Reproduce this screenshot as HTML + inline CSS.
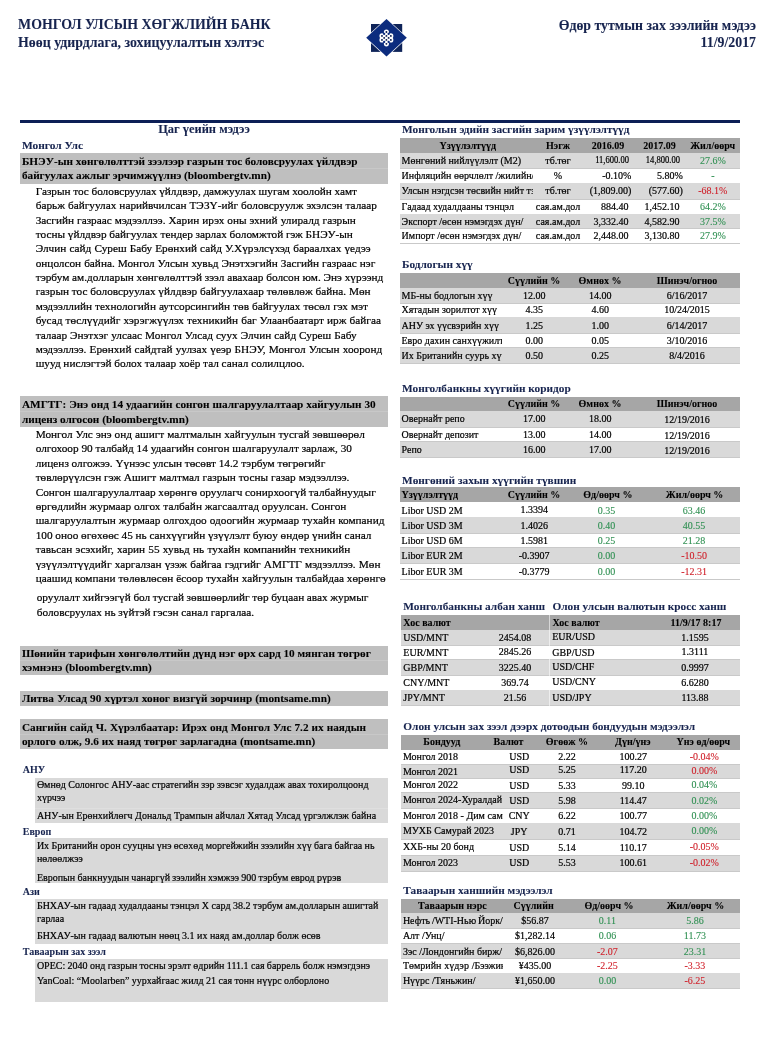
<!DOCTYPE html>
<html lang="mn"><head><meta charset="utf-8"><title>Өдөр тутмын зах зээлийн мэдээ</title>
<style>
html,body{margin:0;padding:0;background:#fff;}
body{width:775px;height:1038px;position:relative;overflow:hidden;font-family:"Liberation Serif",serif;color:#000;}
.t{position:absolute;white-space:nowrap;line-height:14px;height:14px;-webkit-text-stroke:0.2px currentColor;}
.b{position:absolute;}
</style></head><body>
<div class="t" style="top:18px;font-size:13.85px;font-weight:bold;-webkit-text-stroke:0.08px currentColor;color:#17244f;left:18.10px;">МОНГОЛ УЛСЫН ХӨГЖЛИЙН БАНК</div>
<div class="t" style="top:36px;font-size:13.85px;font-weight:bold;-webkit-text-stroke:0.08px currentColor;color:#17244f;left:18.10px;">Нөөц удирдлага, зохицуулалтын хэлтэс</div>
<div class="t" style="top:19px;font-size:13.85px;font-weight:bold;-webkit-text-stroke:0.08px currentColor;color:#17244f;left:456.00px;width:300px;text-align:right;">Өдөр тутмын зах зээлийн мэдээ</div>
<div class="t" style="top:36px;font-size:13.85px;font-weight:bold;-webkit-text-stroke:0.08px currentColor;color:#17244f;left:456.00px;width:300px;text-align:right;">11/9/2017</div>
<svg class="b" style="left:360px;top:12px" width="54" height="52" viewBox="360 12 54 52">
<rect x="371" y="24" width="31.2" height="27.9" fill="#0f2459"/>
<polygon points="386.5,18.2 407.7,37.8 386.5,57.4 365.3,37.8" fill="#fff"/>
<polygon points="386.5,19.1 406.8,37.8 386.5,56.5 366.2,37.8" fill="#0c2c7e"/>
<g fill="#fff"><circle cx="386.40" cy="31.93" r="2.55"/><circle cx="381.96" cy="35.91" r="2.55"/><circle cx="386.40" cy="35.91" r="2.55"/><circle cx="390.84" cy="35.91" r="2.55"/><circle cx="384.18" cy="37.90" r="2.55"/><circle cx="388.62" cy="37.90" r="2.55"/><circle cx="381.96" cy="39.89" r="2.55"/><circle cx="386.40" cy="39.89" r="2.55"/><circle cx="390.84" cy="39.89" r="2.55"/><circle cx="386.40" cy="43.87" r="2.55"/></g>
<g fill="#0c2c7e"><circle cx="384.18" cy="33.92" r="1.15"/><circle cx="388.62" cy="33.92" r="1.15"/><circle cx="384.18" cy="41.88" r="1.15"/><circle cx="388.62" cy="41.88" r="1.15"/></g>
<g fill="#06184a"><circle cx="386.40" cy="31.93" r="0.95"/><circle cx="381.96" cy="35.91" r="0.95"/><circle cx="386.40" cy="35.91" r="0.95"/><circle cx="390.84" cy="35.91" r="0.95"/><circle cx="384.18" cy="37.90" r="0.95"/><circle cx="388.62" cy="37.90" r="0.95"/><circle cx="381.96" cy="39.89" r="0.95"/><circle cx="386.40" cy="39.89" r="0.95"/><circle cx="390.84" cy="39.89" r="0.95"/><circle cx="386.40" cy="43.87" r="0.95"/></g>
</svg>
<div class="b" style="left:20.00px;top:120.00px;width:719.50px;height:3.20px;background:#0c1f56;"></div>
<div class="t" style="top:122px;font-size:12.45px;font-weight:bold;-webkit-text-stroke:0.08px currentColor;color:#17244f;left:54.00px;width:300px;text-align:center;">Цаг үеийн мэдээ</div>
<div class="t" style="top:138px;font-size:11.4px;font-weight:bold;-webkit-text-stroke:0.08px currentColor;color:#17244f;left:21.90px;">Монгол Улс</div>
<div class="b" style="left:20.00px;top:153.20px;width:368.00px;height:30.40px;background:#bfbfbf;"></div>
<div class="b" style="left:20.00px;top:167.90px;width:368.00px;height:1.00px;background:#c8c8c8;"></div>
<div class="t" style="top:154px;font-size:11.25px;font-weight:bold;-webkit-text-stroke:0.08px currentColor;left:21.90px;word-spacing:-0.100px;">БНЭУ-ын хөнгөлөлттэй зээлээр газрын тос боловсруулах үйлдвэр</div>
<div class="t" style="top:168px;font-size:11.25px;font-weight:bold;-webkit-text-stroke:0.08px currentColor;left:21.90px;">байгуулах ажлыг эрчимжүүлнэ (bloombergtv.mn)</div>
<div class="t" style="top:184px;font-size:11.28px;left:35.70px;word-spacing:-0.257px;">Газрын тос боловсруулах үйлдвэр, дамжуулах шугам хоолойн хамт</div>
<div class="t" style="top:198px;font-size:11.28px;left:35.70px;word-spacing:0.167px;">барьж байгуулах нарийвчилсан ТЭЗҮ-ийг боловсруулж эхэлсэн талаар</div>
<div class="t" style="top:213px;font-size:11.28px;left:35.70px;word-spacing:0.188px;">Засгийн газраас мэдээллээ. Харин ирэх оны эхний улиралд газрын</div>
<div class="t" style="top:227px;font-size:11.28px;left:35.70px;word-spacing:-0.043px;">тосны үйлдвэр байгуулах тендер зарлах боломжтой гэж БНЭУ-ын</div>
<div class="t" style="top:241px;font-size:11.28px;left:35.70px;word-spacing:0.275px;">Элчин сайд Суреш Бабу Ерөнхий сайд У.Хүрэлсүхэд бараалхах үедээ</div>
<div class="t" style="top:256px;font-size:11.28px;left:35.70px;word-spacing:0.175px;">онцолсон байна. Монгол Улсын хувьд Энэтхэгийн Засгийн газраас нэг</div>
<div class="t" style="top:270px;font-size:11.28px;left:35.70px;">тэрбум ам.долларын хөнгөлөлттэй зээл авахаар болсон юм. Энэ хүрээнд</div>
<div class="t" style="top:284px;font-size:11.28px;left:35.70px;">газрын тос боловсруулах үйлдвэр байгуулахаар төлөвлөж байна. Мөн</div>
<div class="t" style="top:299px;font-size:11.28px;left:35.70px;word-spacing:0.200px;">мэдээллийн технологийн аутсорсингийн төв байгуулах төсөл гэх мэт</div>
<div class="t" style="top:313px;font-size:11.28px;left:35.70px;word-spacing:0.286px;">бусад төслүүдийг хэрэгжүүлэх техникийн баг Улаанбаатарт ирж байгаа</div>
<div class="t" style="top:328px;font-size:11.28px;left:35.70px;word-spacing:0.133px;">талаар Энэтхэг улсаас Монгол Улсад суух Элчин сайд Суреш Бабу</div>
<div class="t" style="top:342px;font-size:11.28px;left:35.70px;word-spacing:0.325px;">мэдээллээ. Ерөнхий сайдтай уулзах үеэр БНЭУ, Монгол Улсын хооронд</div>
<div class="t" style="top:356px;font-size:11.28px;left:35.70px;word-spacing:-0.114px;">шууд нислэгтэй болох талаар хоёр тал санал солилцлоо.</div>
<div class="b" style="left:20.00px;top:396.40px;width:368.00px;height:30.20px;background:#bfbfbf;"></div>
<div class="b" style="left:20.00px;top:411.00px;width:368.00px;height:1.00px;background:#c8c8c8;"></div>
<div class="t" style="top:397px;font-size:11.25px;font-weight:bold;-webkit-text-stroke:0.08px currentColor;left:21.90px;word-spacing:0.150px;">АМГТГ: Энэ онд 14 удаагийн сонгон шалгаруулалтаар хайгуулын 30</div>
<div class="t" style="top:412px;font-size:11.25px;font-weight:bold;-webkit-text-stroke:0.08px currentColor;left:21.90px;">лиценз олгосон (bloombergtv.mn)</div>
<div class="t" style="top:427px;font-size:11.28px;left:35.70px;word-spacing:0.200px;">Монгол Улс энэ онд ашигт малтмалын хайгуулын тусгай зөвшөөрөл</div>
<div class="t" style="top:441px;font-size:11.28px;left:35.70px;">олгохоор 90 талбайд 14 удаагийн сонгон шалгаруулалт зарлаж, 30</div>
<div class="t" style="top:456px;font-size:11.28px;left:35.70px;word-spacing:-0.057px;">лиценз олгожээ. Үүнээс улсын төсөвт 14.2 тэрбум төгрөгийг</div>
<div class="t" style="top:470px;font-size:11.28px;left:35.70px;word-spacing:0.114px;">төвлөрүүлсэн гэж Ашигт малтмал газрын тосны газар мэдээллээ.</div>
<div class="t" style="top:485px;font-size:11.28px;left:35.70px;word-spacing:-0.240px;">Сонгон шалгаруулалтаар хөрөнгө оруулагч сонирхоогүй талбайнуудыг</div>
<div class="t" style="top:499px;font-size:11.28px;left:35.70px;word-spacing:0.083px;">өргөдлийн журмаар олгох талбайн жагсаалтад оруулсан. Сонгон</div>
<div class="t" style="top:513px;font-size:11.28px;left:35.70px;word-spacing:0.150px;">шалгаруулалтын журмаар олгохдоо одоогийн журмаар тухайн компанид</div>
<div class="t" style="top:528px;font-size:11.28px;left:35.70px;word-spacing:-0.070px;">100 оноо өгөхөөс 45 нь санхүүгийн үзүүлэлт буюу өндөр үнийн санал</div>
<div class="t" style="top:542px;font-size:11.28px;left:35.70px;word-spacing:0.375px;">тавьсан эсэхийг, харин 55 хувьд нь тухайн компанийн техникийн</div>
<div class="t" style="top:557px;font-size:11.28px;left:35.70px;word-spacing:0.329px;">үзүүлэлтүүдийг харгалзан үзэж байгаа гэдгийг АМГТГ мэдээллээ. Мөн</div>
<div class="t" style="top:571px;font-size:11.28px;left:35.70px;word-spacing:0.043px;">цаашид компани төлөвлөсөн ёсоор тухайн хайгуулын талбайдаа хөрөнгө</div>
<div class="t" style="top:590px;font-size:11.28px;left:36.70px;word-spacing:-0.175px;">оруулалт хийгээгүй бол тусгай зөвшөөрлийг төр буцаан авах журмыг</div>
<div class="t" style="top:605px;font-size:11.28px;left:36.70px;word-spacing:-0.2px;">боловсруулах нь зүйтэй гэсэн санал гаргалаа.</div>
<div class="b" style="left:20.00px;top:645.80px;width:368.00px;height:29.00px;background:#bfbfbf;"></div>
<div class="b" style="left:20.00px;top:659.80px;width:368.00px;height:1.00px;background:#c8c8c8;"></div>
<div class="t" style="top:646px;font-size:11.25px;font-weight:bold;-webkit-text-stroke:0.08px currentColor;left:21.90px;word-spacing:-0.111px;">Шөнийн тарифын хөнгөлөлтийн дүнд нэг өрх сард 10 мянган төгрөг</div>
<div class="t" style="top:660px;font-size:11.25px;font-weight:bold;-webkit-text-stroke:0.08px currentColor;left:21.90px;">хэмнэнэ (bloombergtv.mn)</div>
<div class="b" style="left:20.00px;top:691.00px;width:368.00px;height:14.80px;background:#bfbfbf;"></div>
<div class="t" style="top:691px;font-size:11.25px;font-weight:bold;-webkit-text-stroke:0.08px currentColor;left:21.90px;word-spacing:0.371px;">Литва Улсад 90 хүртэл хоног визгүй зорчинр (montsame.mn)</div>
<div class="b" style="left:20.00px;top:719.20px;width:368.00px;height:30.30px;background:#bfbfbf;"></div>
<div class="b" style="left:20.00px;top:733.85px;width:368.00px;height:1.00px;background:#c8c8c8;"></div>
<div class="t" style="top:720px;font-size:11.25px;font-weight:bold;-webkit-text-stroke:0.08px currentColor;left:21.90px;word-spacing:0.260px;">Сангийн сайд Ч. Хүрэлбаатар: Ирэх онд Монгол Улс 7.2 их наядын</div>
<div class="t" style="top:734px;font-size:11.25px;font-weight:bold;-webkit-text-stroke:0.08px currentColor;left:21.90px;word-spacing:0.243px;">орлого олж, 9.6 их наяд төгрөг зарлагадна (montsame.mn)</div>
<div class="t" style="top:763px;font-size:10.0px;font-weight:bold;-webkit-text-stroke:0.08px currentColor;color:#17244f;left:22.80px;">АНУ</div>
<div class="b" style="left:34.80px;top:778.10px;width:353.30px;height:45.40px;background:#d9d9d9;"></div>
<div class="b" style="left:34.80px;top:808.20px;width:353.30px;height:1.00px;background:#dfdfdf;"></div>
<div class="t" style="top:778px;font-size:10px;left:36.90px;word-spacing:-0.075px;">Өмнөд Солонгос АНУ-аас стратегийн зэр зэвсэг худалдаж авах тохиролцоонд</div>
<div class="t" style="top:791px;font-size:10px;left:36.90px;">хүрчээ</div>
<div class="t" style="top:809px;font-size:10px;left:36.90px;">АНУ-ын Ерөнхийлөгч Дональд Трампын айчлал Хятад Улсад үргэлжлэж байна</div>
<div class="t" style="top:825px;font-size:10.0px;font-weight:bold;-webkit-text-stroke:0.08px currentColor;color:#17244f;left:22.80px;">Европ</div>
<div class="b" style="left:34.80px;top:838.40px;width:353.30px;height:45.00px;background:#d9d9d9;"></div>
<div class="t" style="top:839px;font-size:10px;left:36.90px;word-spacing:-0.191px;">Их Британийн орон сууцны үнэ өсөхөд моргейжийн зээлийн хүү бага байгаа нь</div>
<div class="t" style="top:852px;font-size:10px;left:36.90px;">нөлөөлжээ</div>
<div class="t" style="top:871px;font-size:10px;left:36.90px;word-spacing:-0.200px;">Европын банкнуудын чанаргүй зээлийн хэмжээ 900 тэрбум еврод рүрэв</div>
<div class="t" style="top:885px;font-size:10.0px;font-weight:bold;-webkit-text-stroke:0.08px currentColor;color:#17244f;left:22.80px;">Ази</div>
<div class="b" style="left:34.80px;top:898.60px;width:353.30px;height:45.50px;background:#d9d9d9;"></div>
<div class="t" style="top:899px;font-size:10px;left:36.90px;">БНХАУ-ын гадаад худалдааны тэнцэл X сард 38.2 тэрбум ам.долларын ашигтай</div>
<div class="t" style="top:912px;font-size:10px;left:36.90px;">гарлаа</div>
<div class="t" style="top:929px;font-size:10px;left:36.90px;">БНХАУ-ын гадаад валютын нөөц 3.1 их наяд ам.доллар болж өсөв</div>
<div class="t" style="top:945px;font-size:10.0px;font-weight:bold;-webkit-text-stroke:0.08px currentColor;color:#17244f;left:22.80px;">Таваарын зах зээл</div>
<div class="b" style="left:34.80px;top:959.30px;width:353.30px;height:42.40px;background:#d9d9d9;"></div>
<div class="t" style="top:959px;font-size:10px;left:36.90px;word-spacing:-0.155px;">OPEC: 2040 онд газрын тосны эрэлт өдрийн 111.1 сая баррель болж нэмэгдэнэ</div>
<div class="t" style="top:974px;font-size:10px;left:36.90px;word-spacing:-0.087px;">YanCoal: “Moolarben” уурхайгаас жилд 21 сая тонн нүүрс олборлоно</div>
<div class="t" style="top:122px;font-size:11.3px;font-weight:bold;-webkit-text-stroke:0.08px currentColor;color:#17244f;left:402.00px;">Монголын эдийн засгийн зарим үзүүлэлтүүд</div>
<div class="b" style="left:400.00px;top:138.20px;width:339.80px;height:15.20px;background:#a6a6a6;"></div>
<div class="b" style="left:400.00px;top:153.40px;width:339.80px;height:15.10px;background:#d9d9d9;"></div>
<div class="b" style="left:400.00px;top:167.90px;width:339.80px;height:1.00px;background:#c9c9c9;"></div>
<div class="b" style="left:400.00px;top:182.80px;width:339.80px;height:1.00px;background:#c9c9c9;"></div>
<div class="b" style="left:400.00px;top:183.40px;width:339.80px;height:16.00px;background:#d9d9d9;"></div>
<div class="b" style="left:400.00px;top:198.80px;width:339.80px;height:1.00px;background:#c9c9c9;"></div>
<div class="b" style="left:400.00px;top:213.60px;width:339.80px;height:1.00px;background:#c9c9c9;"></div>
<div class="b" style="left:400.00px;top:214.20px;width:339.80px;height:14.20px;background:#d9d9d9;"></div>
<div class="b" style="left:400.00px;top:227.80px;width:339.80px;height:1.00px;background:#c9c9c9;"></div>
<div class="b" style="left:400.00px;top:242.70px;width:339.80px;height:1.00px;background:#c9c9c9;"></div>
<div class="t" style="top:139px;font-size:10px;font-weight:bold;-webkit-text-stroke:0.08px currentColor;left:317.80px;width:300px;text-align:center;">Үзүүлэлтүүд</div>
<div class="t" style="top:139px;font-size:10px;font-weight:bold;-webkit-text-stroke:0.08px currentColor;left:408.00px;width:300px;text-align:center;">Нэгж</div>
<div class="t" style="top:139px;font-size:10px;font-weight:bold;-webkit-text-stroke:0.08px currentColor;left:458.00px;width:300px;text-align:center;">2016.09</div>
<div class="t" style="top:139px;font-size:10px;font-weight:bold;-webkit-text-stroke:0.08px currentColor;left:509.50px;width:300px;text-align:center;">2017.09</div>
<div class="t" style="top:139px;font-size:10px;font-weight:bold;-webkit-text-stroke:0.08px currentColor;left:562.70px;width:300px;text-align:center;">Жил/өөрч</div>
<div class="t" style="top:154px;font-size:10px;left:401.60px;width:131.80px;overflow:hidden;">Мөнгөний нийлүүлэлт (M2)</div>
<div class="t" style="top:154px;font-size:10px;left:408.00px;width:300px;text-align:center;">тб.төг</div>
<div class="t" style="top:153px;font-size:9.6px;left:329.00px;width:300px;text-align:right;transform:scaleX(0.89);transform-origin:100% 50%;">11,600.00</div>
<div class="t" style="top:153px;font-size:9.6px;left:380.30px;width:300px;text-align:right;transform:scaleX(0.89);transform-origin:100% 50%;">14,800.00</div>
<div class="t" style="top:154px;font-size:10px;color:#2f9052;-webkit-text-stroke:0.1px currentColor;left:562.80px;width:300px;text-align:center;">27.6%</div>
<div class="t" style="top:169px;font-size:10px;left:401.60px;width:131.80px;overflow:hidden;">Инфляцийн өөрчлөлт /жилийн/</div>
<div class="t" style="top:169px;font-size:10px;left:408.00px;width:300px;text-align:center;">%</div>
<div class="t" style="top:169px;font-size:10px;left:331.30px;width:300px;text-align:right;">-0.10%</div>
<div class="t" style="top:169px;font-size:10px;left:382.90px;width:300px;text-align:right;">5.80%</div>
<div class="t" style="top:169px;font-size:10px;color:#2f9052;-webkit-text-stroke:0.1px currentColor;left:562.80px;width:300px;text-align:center;">-</div>
<div class="t" style="top:184px;font-size:10px;left:401.60px;width:131.80px;overflow:hidden;">Улсын нэгдсэн төсвийн нийт тэнцэл</div>
<div class="t" style="top:184px;font-size:10px;left:408.00px;width:300px;text-align:center;">тб.төг</div>
<div class="t" style="top:184px;font-size:10px;left:331.30px;width:300px;text-align:right;">(1,809.00)</div>
<div class="t" style="top:184px;font-size:10px;left:382.90px;width:300px;text-align:right;">(577.60)</div>
<div class="t" style="top:184px;font-size:10px;color:#d0202a;-webkit-text-stroke:0.1px currentColor;left:562.80px;width:300px;text-align:center;">-68.1%</div>
<div class="t" style="top:200px;font-size:10px;left:401.60px;width:131.80px;overflow:hidden;">Гадаад худалдааны тэнцэл</div>
<div class="t" style="top:200px;font-size:10px;left:408.00px;width:300px;text-align:center;">сая.ам.дол</div>
<div class="t" style="top:200px;font-size:10px;left:328.40px;width:300px;text-align:right;">884.40</div>
<div class="t" style="top:200px;font-size:10px;left:379.60px;width:300px;text-align:right;">1,452.10</div>
<div class="t" style="top:200px;font-size:10px;color:#2f9052;-webkit-text-stroke:0.1px currentColor;left:562.80px;width:300px;text-align:center;">64.2%</div>
<div class="t" style="top:215px;font-size:10px;left:401.60px;width:131.80px;overflow:hidden;">Экспорт /өсөн нэмэгдэх дүн/</div>
<div class="t" style="top:215px;font-size:10px;left:408.00px;width:300px;text-align:center;">сая.ам.дол</div>
<div class="t" style="top:215px;font-size:10px;left:328.40px;width:300px;text-align:right;">3,332.40</div>
<div class="t" style="top:215px;font-size:10px;left:379.60px;width:300px;text-align:right;">4,582.90</div>
<div class="t" style="top:215px;font-size:10px;color:#2f9052;-webkit-text-stroke:0.1px currentColor;left:562.80px;width:300px;text-align:center;">37.5%</div>
<div class="t" style="top:229px;font-size:10px;left:401.60px;width:131.80px;overflow:hidden;">Импорт /өсөн нэмэгдэх дүн/</div>
<div class="t" style="top:229px;font-size:10px;left:408.00px;width:300px;text-align:center;">сая.ам.дол</div>
<div class="t" style="top:229px;font-size:10px;left:328.40px;width:300px;text-align:right;">2,448.00</div>
<div class="t" style="top:229px;font-size:10px;left:379.60px;width:300px;text-align:right;">3,130.80</div>
<div class="t" style="top:229px;font-size:10px;color:#2f9052;-webkit-text-stroke:0.1px currentColor;left:562.80px;width:300px;text-align:center;">27.9%</div>
<div class="t" style="top:257px;font-size:11.3px;font-weight:bold;-webkit-text-stroke:0.08px currentColor;color:#17244f;left:402.00px;">Бодлогын хүү</div>
<div class="b" style="left:400.00px;top:273.10px;width:339.80px;height:14.50px;background:#a6a6a6;"></div>
<div class="b" style="left:400.00px;top:287.60px;width:339.80px;height:15.80px;background:#d9d9d9;"></div>
<div class="b" style="left:400.00px;top:302.80px;width:339.80px;height:1.00px;background:#c9c9c9;"></div>
<div class="b" style="left:400.00px;top:316.70px;width:339.80px;height:1.00px;background:#c9c9c9;"></div>
<div class="b" style="left:400.00px;top:317.30px;width:339.80px;height:16.30px;background:#d9d9d9;"></div>
<div class="b" style="left:400.00px;top:333.00px;width:339.80px;height:1.00px;background:#c9c9c9;"></div>
<div class="b" style="left:400.00px;top:347.40px;width:339.80px;height:1.00px;background:#c9c9c9;"></div>
<div class="b" style="left:400.00px;top:348.00px;width:339.80px;height:16.00px;background:#d9d9d9;"></div>
<div class="b" style="left:400.00px;top:363.40px;width:339.80px;height:1.00px;background:#c9c9c9;"></div>
<div class="t" style="top:274px;font-size:10px;font-weight:bold;-webkit-text-stroke:0.08px currentColor;left:384.00px;width:300px;text-align:center;">Сүүлийн %</div>
<div class="t" style="top:274px;font-size:10px;font-weight:bold;-webkit-text-stroke:0.08px currentColor;left:450.00px;width:300px;text-align:center;">Өмнөх %</div>
<div class="t" style="top:274px;font-size:10px;font-weight:bold;-webkit-text-stroke:0.08px currentColor;left:537.00px;width:300px;text-align:center;">Шинэч/огноо</div>
<div class="t" style="top:289px;font-size:10px;left:401.50px;width:100.70px;overflow:hidden;">МБ-ны бодлогын хүү</div>
<div class="t" style="top:289px;font-size:10px;left:384.20px;width:300px;text-align:center;">12.00</div>
<div class="t" style="top:289px;font-size:10px;left:450.20px;width:300px;text-align:center;">14.00</div>
<div class="t" style="top:289px;font-size:10px;left:537.10px;width:300px;text-align:center;">6/16/2017</div>
<div class="t" style="top:303px;font-size:10px;left:401.50px;width:100.70px;overflow:hidden;">Хятадын зорилтот хүү</div>
<div class="t" style="top:303px;font-size:10px;left:384.20px;width:300px;text-align:center;">4.35</div>
<div class="t" style="top:303px;font-size:10px;left:450.20px;width:300px;text-align:center;">4.60</div>
<div class="t" style="top:303px;font-size:10px;left:537.10px;width:300px;text-align:center;">10/24/2015</div>
<div class="t" style="top:319px;font-size:10px;left:401.50px;width:100.70px;overflow:hidden;">АНУ эх үүсвэрийн хүү</div>
<div class="t" style="top:319px;font-size:10px;left:384.20px;width:300px;text-align:center;">1.25</div>
<div class="t" style="top:319px;font-size:10px;left:450.20px;width:300px;text-align:center;">1.00</div>
<div class="t" style="top:319px;font-size:10px;left:537.10px;width:300px;text-align:center;">6/14/2017</div>
<div class="t" style="top:334px;font-size:10px;left:401.50px;width:100.70px;overflow:hidden;">Евро дахин санхүүжилтийн хүү</div>
<div class="t" style="top:334px;font-size:10px;left:384.20px;width:300px;text-align:center;">0.00</div>
<div class="t" style="top:334px;font-size:10px;left:450.20px;width:300px;text-align:center;">0.05</div>
<div class="t" style="top:334px;font-size:10px;left:537.10px;width:300px;text-align:center;">3/10/2016</div>
<div class="t" style="top:349px;font-size:10px;left:401.50px;width:100.70px;overflow:hidden;">Их Британийн суурь хүү</div>
<div class="t" style="top:349px;font-size:10px;left:384.20px;width:300px;text-align:center;">0.50</div>
<div class="t" style="top:349px;font-size:10px;left:450.20px;width:300px;text-align:center;">0.25</div>
<div class="t" style="top:349px;font-size:10px;left:537.10px;width:300px;text-align:center;">8/4/2016</div>
<div class="t" style="top:381px;font-size:11.3px;font-weight:bold;-webkit-text-stroke:0.08px currentColor;color:#17244f;left:402.00px;">Монголбанкны хүүгийн коридор</div>
<div class="b" style="left:400.00px;top:396.70px;width:339.80px;height:14.30px;background:#a6a6a6;"></div>
<div class="b" style="left:400.00px;top:411.00px;width:339.80px;height:16.60px;background:#d9d9d9;"></div>
<div class="b" style="left:400.00px;top:427.00px;width:339.80px;height:1.00px;background:#c9c9c9;"></div>
<div class="b" style="left:400.00px;top:441.40px;width:339.80px;height:1.00px;background:#c9c9c9;"></div>
<div class="b" style="left:400.00px;top:442.00px;width:339.80px;height:16.00px;background:#d9d9d9;"></div>
<div class="b" style="left:400.00px;top:457.40px;width:339.80px;height:1.00px;background:#c9c9c9;"></div>
<div class="t" style="top:397px;font-size:10px;font-weight:bold;-webkit-text-stroke:0.08px currentColor;left:384.00px;width:300px;text-align:center;">Сүүлийн %</div>
<div class="t" style="top:397px;font-size:10px;font-weight:bold;-webkit-text-stroke:0.08px currentColor;left:450.00px;width:300px;text-align:center;">Өмнөх %</div>
<div class="t" style="top:397px;font-size:10px;font-weight:bold;-webkit-text-stroke:0.08px currentColor;left:537.00px;width:300px;text-align:center;">Шинэч/огноо</div>
<div class="t" style="top:412px;font-size:10px;left:401.60px;">Овернайт репо</div>
<div class="t" style="top:412px;font-size:10px;left:384.20px;width:300px;text-align:center;">17.00</div>
<div class="t" style="top:412px;font-size:10px;left:450.20px;width:300px;text-align:center;">18.00</div>
<div class="t" style="top:413px;font-size:10px;left:537.10px;width:300px;text-align:center;">12/19/2016</div>
<div class="t" style="top:428px;font-size:10px;left:401.60px;">Овернайт депозит</div>
<div class="t" style="top:428px;font-size:10px;left:384.20px;width:300px;text-align:center;">13.00</div>
<div class="t" style="top:428px;font-size:10px;left:450.20px;width:300px;text-align:center;">14.00</div>
<div class="t" style="top:429px;font-size:10px;left:537.10px;width:300px;text-align:center;">12/19/2016</div>
<div class="t" style="top:443px;font-size:10px;left:401.60px;">Репо</div>
<div class="t" style="top:443px;font-size:10px;left:384.20px;width:300px;text-align:center;">16.00</div>
<div class="t" style="top:443px;font-size:10px;left:450.20px;width:300px;text-align:center;">17.00</div>
<div class="t" style="top:444px;font-size:10px;left:537.10px;width:300px;text-align:center;">12/19/2016</div>
<div class="t" style="top:473px;font-size:11.3px;font-weight:bold;-webkit-text-stroke:0.08px currentColor;color:#17244f;left:402.00px;">Мөнгөний захын хүүгийн түвшин</div>
<div class="b" style="left:400.00px;top:487.30px;width:339.80px;height:15.10px;background:#a6a6a6;"></div>
<div class="b" style="left:400.00px;top:516.70px;width:339.80px;height:1.00px;background:#c9c9c9;"></div>
<div class="b" style="left:400.00px;top:517.30px;width:339.80px;height:16.30px;background:#d9d9d9;"></div>
<div class="b" style="left:400.00px;top:533.00px;width:339.80px;height:1.00px;background:#c9c9c9;"></div>
<div class="b" style="left:400.00px;top:547.40px;width:339.80px;height:1.00px;background:#c9c9c9;"></div>
<div class="b" style="left:400.00px;top:548.00px;width:339.80px;height:16.00px;background:#d9d9d9;"></div>
<div class="b" style="left:400.00px;top:563.40px;width:339.80px;height:1.00px;background:#c9c9c9;"></div>
<div class="b" style="left:400.00px;top:578.80px;width:339.80px;height:1.00px;background:#c9c9c9;"></div>
<div class="t" style="top:488px;font-size:10px;font-weight:bold;-webkit-text-stroke:0.08px currentColor;left:401.60px;">Үзүүлэлтүүд</div>
<div class="t" style="top:488px;font-size:10px;font-weight:bold;-webkit-text-stroke:0.08px currentColor;left:384.00px;width:300px;text-align:center;">Сүүлийн %</div>
<div class="t" style="top:488px;font-size:10px;font-weight:bold;-webkit-text-stroke:0.08px currentColor;left:457.90px;width:300px;text-align:center;">Өд/өөрч %</div>
<div class="t" style="top:488px;font-size:10px;font-weight:bold;-webkit-text-stroke:0.08px currentColor;left:544.60px;width:300px;text-align:center;">Жил/өөрч %</div>
<div class="t" style="top:504px;font-size:10px;left:401.60px;">Libor USD 2M</div>
<div class="t" style="top:503px;font-size:10px;left:384.20px;width:300px;text-align:center;">1.3394</div>
<div class="t" style="top:504px;font-size:10px;color:#2f9052;-webkit-text-stroke:0.1px currentColor;left:456.60px;width:300px;text-align:center;">0.35</div>
<div class="t" style="top:504px;font-size:10px;color:#2f9052;-webkit-text-stroke:0.1px currentColor;left:544.10px;width:300px;text-align:center;">63.46</div>
<div class="t" style="top:519px;font-size:10px;left:401.60px;">Libor USD 3M</div>
<div class="t" style="top:519px;font-size:10px;left:384.20px;width:300px;text-align:center;">1.4026</div>
<div class="t" style="top:519px;font-size:10px;color:#2f9052;-webkit-text-stroke:0.1px currentColor;left:456.60px;width:300px;text-align:center;">0.40</div>
<div class="t" style="top:519px;font-size:10px;color:#2f9052;-webkit-text-stroke:0.1px currentColor;left:544.10px;width:300px;text-align:center;">40.55</div>
<div class="t" style="top:534px;font-size:10px;left:401.60px;">Libor USD 6M</div>
<div class="t" style="top:534px;font-size:10px;left:384.20px;width:300px;text-align:center;">1.5981</div>
<div class="t" style="top:534px;font-size:10px;color:#2f9052;-webkit-text-stroke:0.1px currentColor;left:456.60px;width:300px;text-align:center;">0.25</div>
<div class="t" style="top:534px;font-size:10px;color:#2f9052;-webkit-text-stroke:0.1px currentColor;left:544.10px;width:300px;text-align:center;">21.28</div>
<div class="t" style="top:549px;font-size:10px;left:401.60px;">Libor EUR 2M</div>
<div class="t" style="top:549px;font-size:10px;left:384.20px;width:300px;text-align:center;">-0.3907</div>
<div class="t" style="top:549px;font-size:10px;color:#2f9052;-webkit-text-stroke:0.1px currentColor;left:456.60px;width:300px;text-align:center;">0.00</div>
<div class="t" style="top:549px;font-size:10px;color:#d0202a;-webkit-text-stroke:0.1px currentColor;left:544.10px;width:300px;text-align:center;">-10.50</div>
<div class="t" style="top:565px;font-size:10px;left:401.60px;">Libor EUR 3M</div>
<div class="t" style="top:565px;font-size:10px;left:384.20px;width:300px;text-align:center;">-0.3779</div>
<div class="t" style="top:565px;font-size:10px;color:#2f9052;-webkit-text-stroke:0.1px currentColor;left:456.60px;width:300px;text-align:center;">0.00</div>
<div class="t" style="top:565px;font-size:10px;color:#d0202a;-webkit-text-stroke:0.1px currentColor;left:544.10px;width:300px;text-align:center;">-12.31</div>
<div class="t" style="top:599px;font-size:11.3px;font-weight:bold;-webkit-text-stroke:0.08px currentColor;color:#17244f;left:403.30px;">Монголбанкны албан ханш</div>
<div class="t" style="top:599px;font-size:11.3px;font-weight:bold;-webkit-text-stroke:0.08px currentColor;color:#17244f;left:552.40px;">Олон улсын валютын кросс ханш</div>
<div class="b" style="left:401.00px;top:614.80px;width:338.80px;height:14.90px;background:#a6a6a6;"></div>
<div class="b" style="left:401.00px;top:629.70px;width:338.80px;height:15.60px;background:#d9d9d9;"></div>
<div class="b" style="left:401.00px;top:644.70px;width:338.80px;height:1.00px;background:#c9c9c9;"></div>
<div class="b" style="left:401.00px;top:659.20px;width:338.80px;height:1.00px;background:#c9c9c9;"></div>
<div class="b" style="left:401.00px;top:659.80px;width:338.80px;height:15.40px;background:#d9d9d9;"></div>
<div class="b" style="left:401.00px;top:674.60px;width:338.80px;height:1.00px;background:#c9c9c9;"></div>
<div class="b" style="left:401.00px;top:689.60px;width:338.80px;height:1.00px;background:#c9c9c9;"></div>
<div class="b" style="left:401.00px;top:690.20px;width:338.80px;height:15.50px;background:#d9d9d9;"></div>
<div class="b" style="left:401.00px;top:705.10px;width:338.80px;height:1.00px;background:#c9c9c9;"></div>
<div class="b" style="left:548.60px;top:614.80px;width:1.30px;height:90.90px;background:rgba(255,255,255,0.55);"></div>
<div class="t" style="top:616px;font-size:10px;font-weight:bold;-webkit-text-stroke:0.08px currentColor;left:403.30px;">Хос валют</div>
<div class="t" style="top:616px;font-size:10px;font-weight:bold;-webkit-text-stroke:0.08px currentColor;left:552.40px;">Хос валют</div>
<div class="t" style="top:616px;font-size:10px;font-weight:bold;-webkit-text-stroke:0.08px currentColor;left:546.00px;width:300px;text-align:center;">11/9/17 8:17</div>
<div class="t" style="top:631px;font-size:10px;left:403.30px;">USD/MNT</div>
<div class="t" style="top:631px;font-size:10px;left:365.00px;width:300px;text-align:center;">2454.08</div>
<div class="t" style="top:630px;font-size:10px;left:552.20px;">EUR/USD</div>
<div class="t" style="top:631px;font-size:10px;left:545.00px;width:300px;text-align:center;">1.1595</div>
<div class="t" style="top:646px;font-size:10px;left:403.30px;">EUR/MNT</div>
<div class="t" style="top:645px;font-size:10px;left:365.00px;width:300px;text-align:center;">2845.26</div>
<div class="t" style="top:646px;font-size:10px;left:552.20px;">GBP/USD</div>
<div class="t" style="top:645px;font-size:10px;left:545.00px;width:300px;text-align:center;">1.3111</div>
<div class="t" style="top:661px;font-size:10px;left:403.30px;">GBP/MNT</div>
<div class="t" style="top:661px;font-size:10px;left:365.00px;width:300px;text-align:center;">3225.40</div>
<div class="t" style="top:660px;font-size:10px;left:552.20px;">USD/CHF</div>
<div class="t" style="top:661px;font-size:10px;left:545.00px;width:300px;text-align:center;">0.9997</div>
<div class="t" style="top:676px;font-size:10px;left:403.30px;">CNY/MNT</div>
<div class="t" style="top:676px;font-size:10px;left:365.00px;width:300px;text-align:center;">369.74</div>
<div class="t" style="top:675px;font-size:10px;left:552.20px;">USD/CNY</div>
<div class="t" style="top:676px;font-size:10px;left:545.00px;width:300px;text-align:center;">6.6280</div>
<div class="t" style="top:691px;font-size:10px;left:403.30px;">JPY/MNT</div>
<div class="t" style="top:691px;font-size:10px;left:365.00px;width:300px;text-align:center;">21.56</div>
<div class="t" style="top:691px;font-size:10px;left:552.20px;">USD/JPY</div>
<div class="t" style="top:691px;font-size:10px;left:545.00px;width:300px;text-align:center;">113.88</div>
<div class="t" style="top:719px;font-size:11.3px;font-weight:bold;-webkit-text-stroke:0.08px currentColor;color:#17244f;left:403.30px;">Олон улсын зах зээл дээрх дотоодын бондуудын мэдээлэл</div>
<div class="b" style="left:401.00px;top:734.80px;width:338.80px;height:14.80px;background:#a6a6a6;"></div>
<div class="b" style="left:401.00px;top:764.10px;width:338.80px;height:1.00px;background:#c9c9c9;"></div>
<div class="b" style="left:401.00px;top:764.70px;width:338.80px;height:13.50px;background:#d9d9d9;"></div>
<div class="b" style="left:401.00px;top:777.60px;width:338.80px;height:1.00px;background:#c9c9c9;"></div>
<div class="b" style="left:401.00px;top:792.30px;width:338.80px;height:1.00px;background:#c9c9c9;"></div>
<div class="b" style="left:401.00px;top:792.90px;width:338.80px;height:15.60px;background:#d9d9d9;"></div>
<div class="b" style="left:401.00px;top:807.90px;width:338.80px;height:1.00px;background:#c9c9c9;"></div>
<div class="b" style="left:401.00px;top:822.60px;width:338.80px;height:1.00px;background:#c9c9c9;"></div>
<div class="b" style="left:401.00px;top:823.20px;width:338.80px;height:16.20px;background:#d9d9d9;"></div>
<div class="b" style="left:401.00px;top:838.80px;width:338.80px;height:1.00px;background:#c9c9c9;"></div>
<div class="b" style="left:401.00px;top:854.90px;width:338.80px;height:1.00px;background:#c9c9c9;"></div>
<div class="b" style="left:401.00px;top:855.50px;width:338.80px;height:15.80px;background:#d9d9d9;"></div>
<div class="b" style="left:401.00px;top:870.70px;width:338.80px;height:1.00px;background:#c9c9c9;"></div>
<div class="t" style="top:735px;font-size:10px;font-weight:bold;-webkit-text-stroke:0.08px currentColor;left:291.80px;width:300px;text-align:center;">Бондууд</div>
<div class="t" style="top:735px;font-size:10px;font-weight:bold;-webkit-text-stroke:0.08px currentColor;left:358.50px;width:300px;text-align:center;">Валют</div>
<div class="t" style="top:735px;font-size:10px;font-weight:bold;-webkit-text-stroke:0.08px currentColor;left:416.90px;width:300px;text-align:center;">Өгөөж %</div>
<div class="t" style="top:735px;font-size:10px;font-weight:bold;-webkit-text-stroke:0.08px currentColor;left:482.80px;width:300px;text-align:center;">Дүн/үнэ</div>
<div class="t" style="top:735px;font-size:10px;font-weight:bold;-webkit-text-stroke:0.08px currentColor;left:553.40px;width:300px;text-align:center;">Үнэ өд/өөрч</div>
<div class="t" style="top:750px;font-size:10px;left:402.90px;">Монгол 2018</div>
<div class="t" style="top:750px;font-size:10px;left:369.20px;width:300px;text-align:center;">USD</div>
<div class="t" style="top:750px;font-size:10px;left:416.90px;width:300px;text-align:center;">2.22</div>
<div class="t" style="top:750px;font-size:10px;left:483.30px;width:300px;text-align:center;">100.27</div>
<div class="t" style="top:750px;font-size:10px;color:#d0202a;-webkit-text-stroke:0.1px currentColor;left:554.30px;width:300px;text-align:center;">-0.04%</div>
<div class="t" style="top:765px;font-size:10px;left:402.90px;">Монгол 2021</div>
<div class="t" style="top:763px;font-size:10px;left:369.20px;width:300px;text-align:center;">USD</div>
<div class="t" style="top:763px;font-size:10px;left:416.90px;width:300px;text-align:center;">5.25</div>
<div class="t" style="top:763px;font-size:10px;left:483.30px;width:300px;text-align:center;">117.20</div>
<div class="t" style="top:764px;font-size:10px;color:#d0202a;-webkit-text-stroke:0.1px currentColor;left:554.30px;width:300px;text-align:center;">0.00%</div>
<div class="t" style="top:778px;font-size:10px;left:402.90px;">Монгол 2022</div>
<div class="t" style="top:779px;font-size:10px;left:369.20px;width:300px;text-align:center;">USD</div>
<div class="t" style="top:779px;font-size:10px;left:416.90px;width:300px;text-align:center;">5.33</div>
<div class="t" style="top:779px;font-size:10px;left:483.30px;width:300px;text-align:center;">99.10</div>
<div class="t" style="top:778px;font-size:10px;color:#2f9052;-webkit-text-stroke:0.1px currentColor;left:554.30px;width:300px;text-align:center;">0.04%</div>
<div class="t" style="top:793px;font-size:10px;left:402.90px;">Монгол 2024-Хуралдай</div>
<div class="t" style="top:794px;font-size:10px;left:369.20px;width:300px;text-align:center;">USD</div>
<div class="t" style="top:794px;font-size:10px;left:416.90px;width:300px;text-align:center;">5.98</div>
<div class="t" style="top:794px;font-size:10px;left:483.30px;width:300px;text-align:center;">114.47</div>
<div class="t" style="top:794px;font-size:10px;color:#2f9052;-webkit-text-stroke:0.1px currentColor;left:554.30px;width:300px;text-align:center;">0.02%</div>
<div class="t" style="top:809px;font-size:10px;left:402.90px;">Монгол 2018 - Дим сам</div>
<div class="t" style="top:809px;font-size:10px;left:369.20px;width:300px;text-align:center;">CNY</div>
<div class="t" style="top:809px;font-size:10px;left:416.90px;width:300px;text-align:center;">6.22</div>
<div class="t" style="top:809px;font-size:10px;left:483.30px;width:300px;text-align:center;">100.77</div>
<div class="t" style="top:809px;font-size:10px;color:#2f9052;-webkit-text-stroke:0.1px currentColor;left:554.30px;width:300px;text-align:center;">0.00%</div>
<div class="t" style="top:824px;font-size:10px;left:402.90px;">МУХБ Самурай 2023</div>
<div class="t" style="top:825px;font-size:10px;left:369.20px;width:300px;text-align:center;">JPY</div>
<div class="t" style="top:825px;font-size:10px;left:416.90px;width:300px;text-align:center;">0.71</div>
<div class="t" style="top:825px;font-size:10px;left:483.30px;width:300px;text-align:center;">104.72</div>
<div class="t" style="top:824px;font-size:10px;color:#2f9052;-webkit-text-stroke:0.1px currentColor;left:554.30px;width:300px;text-align:center;">0.00%</div>
<div class="t" style="top:840px;font-size:10px;left:402.90px;">ХХБ-ны 20 бонд</div>
<div class="t" style="top:841px;font-size:10px;left:369.20px;width:300px;text-align:center;">USD</div>
<div class="t" style="top:841px;font-size:10px;left:416.90px;width:300px;text-align:center;">5.14</div>
<div class="t" style="top:841px;font-size:10px;left:483.30px;width:300px;text-align:center;">110.17</div>
<div class="t" style="top:840px;font-size:10px;color:#d0202a;-webkit-text-stroke:0.1px currentColor;left:554.30px;width:300px;text-align:center;">-0.05%</div>
<div class="t" style="top:856px;font-size:10px;left:402.90px;">Монгол 2023</div>
<div class="t" style="top:856px;font-size:10px;left:369.20px;width:300px;text-align:center;">USD</div>
<div class="t" style="top:856px;font-size:10px;left:416.90px;width:300px;text-align:center;">5.53</div>
<div class="t" style="top:856px;font-size:10px;left:483.30px;width:300px;text-align:center;">100.61</div>
<div class="t" style="top:856px;font-size:10px;color:#d0202a;-webkit-text-stroke:0.1px currentColor;left:554.30px;width:300px;text-align:center;">-0.02%</div>
<div class="t" style="top:883px;font-size:11.3px;font-weight:bold;-webkit-text-stroke:0.08px currentColor;color:#17244f;left:403.30px;">Таваарын ханшийн мэдээлэл</div>
<div class="b" style="left:401.00px;top:898.70px;width:338.80px;height:14.30px;background:#a6a6a6;"></div>
<div class="b" style="left:401.00px;top:913.00px;width:338.80px;height:15.50px;background:#d9d9d9;"></div>
<div class="b" style="left:401.00px;top:927.90px;width:338.80px;height:1.00px;background:#c9c9c9;"></div>
<div class="b" style="left:401.00px;top:943.40px;width:338.80px;height:1.00px;background:#c9c9c9;"></div>
<div class="b" style="left:401.00px;top:944.00px;width:338.80px;height:15.00px;background:#d9d9d9;"></div>
<div class="b" style="left:401.00px;top:958.40px;width:338.80px;height:1.00px;background:#c9c9c9;"></div>
<div class="b" style="left:401.00px;top:972.70px;width:338.80px;height:1.00px;background:#c9c9c9;"></div>
<div class="b" style="left:401.00px;top:973.30px;width:338.80px;height:15.70px;background:#d9d9d9;"></div>
<div class="b" style="left:401.00px;top:988.40px;width:338.80px;height:1.00px;background:#c9c9c9;"></div>
<div class="t" style="top:899px;font-size:10px;font-weight:bold;-webkit-text-stroke:0.08px currentColor;left:302.40px;width:300px;text-align:center;">Таваарын нэрс</div>
<div class="t" style="top:899px;font-size:10px;font-weight:bold;-webkit-text-stroke:0.08px currentColor;left:383.60px;width:300px;text-align:center;">Сүүлийн</div>
<div class="t" style="top:899px;font-size:10px;font-weight:bold;-webkit-text-stroke:0.08px currentColor;left:459.00px;width:300px;text-align:center;">Өд/өөрч %</div>
<div class="t" style="top:899px;font-size:10px;font-weight:bold;-webkit-text-stroke:0.08px currentColor;left:545.40px;width:300px;text-align:center;">Жил/өөрч %</div>
<div class="t" style="top:914px;font-size:10px;left:402.90px;width:100.00px;overflow:hidden;word-spacing:-0.7px;">Нефть /WTI-Нью Йорк/</div>
<div class="t" style="top:914px;font-size:10px;left:385.00px;width:300px;text-align:center;">$56.87</div>
<div class="t" style="top:914px;font-size:10px;color:#2f9052;-webkit-text-stroke:0.1px currentColor;left:457.40px;width:300px;text-align:center;">0.11</div>
<div class="t" style="top:914px;font-size:10px;color:#2f9052;-webkit-text-stroke:0.1px currentColor;left:544.90px;width:300px;text-align:center;">5.86</div>
<div class="t" style="top:929px;font-size:10px;left:402.90px;width:100.00px;overflow:hidden;">Алт /Унц/</div>
<div class="t" style="top:929px;font-size:10px;left:385.00px;width:300px;text-align:center;">$1,282.14</div>
<div class="t" style="top:929px;font-size:10px;color:#2f9052;-webkit-text-stroke:0.1px currentColor;left:457.40px;width:300px;text-align:center;">0.06</div>
<div class="t" style="top:929px;font-size:10px;color:#2f9052;-webkit-text-stroke:0.1px currentColor;left:544.90px;width:300px;text-align:center;">11.73</div>
<div class="t" style="top:945px;font-size:10px;left:402.90px;width:100.00px;overflow:hidden;">Зэс /Лондонгийн бирж/</div>
<div class="t" style="top:945px;font-size:10px;left:385.00px;width:300px;text-align:center;">$6,826.00</div>
<div class="t" style="top:945px;font-size:10px;color:#d0202a;-webkit-text-stroke:0.1px currentColor;left:457.40px;width:300px;text-align:center;">-2.07</div>
<div class="t" style="top:945px;font-size:10px;color:#2f9052;-webkit-text-stroke:0.1px currentColor;left:544.90px;width:300px;text-align:center;">23.31</div>
<div class="t" style="top:959px;font-size:10px;left:402.90px;width:100.00px;overflow:hidden;word-spacing:0.4px;">Төмрийн хүдэр /Бээжин/</div>
<div class="t" style="top:959px;font-size:10px;left:385.00px;width:300px;text-align:center;">¥435.00</div>
<div class="t" style="top:959px;font-size:10px;color:#d0202a;-webkit-text-stroke:0.1px currentColor;left:457.40px;width:300px;text-align:center;">-2.25</div>
<div class="t" style="top:959px;font-size:10px;color:#d0202a;-webkit-text-stroke:0.1px currentColor;left:544.90px;width:300px;text-align:center;">-3.33</div>
<div class="t" style="top:974px;font-size:10px;left:402.90px;width:100.00px;overflow:hidden;">Нүүрс /Тяньжин/</div>
<div class="t" style="top:974px;font-size:10px;left:385.00px;width:300px;text-align:center;">¥1,650.00</div>
<div class="t" style="top:974px;font-size:10px;color:#2f9052;-webkit-text-stroke:0.1px currentColor;left:457.40px;width:300px;text-align:center;">0.00</div>
<div class="t" style="top:974px;font-size:10px;color:#d0202a;-webkit-text-stroke:0.1px currentColor;left:544.90px;width:300px;text-align:center;">-6.25</div>
</body></html>
